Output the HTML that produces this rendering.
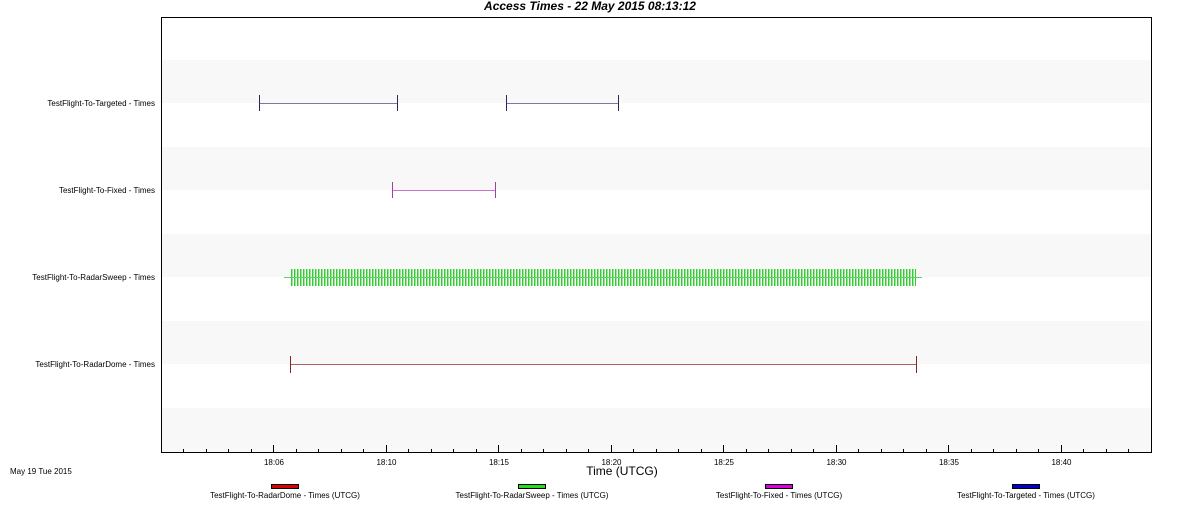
<!DOCTYPE html>
<html><head><style>
body{margin:0;background:#fff;width:1180px;height:501px;overflow:hidden;font-family:"Liberation Sans",sans-serif}
</style></head><body>
<svg width="1180" height="501" xmlns="http://www.w3.org/2000/svg" font-family="Liberation Sans, sans-serif">
<defs>
<pattern id="p" x="291" y="0" width="3" height="20" patternUnits="userSpaceOnUse">
<rect x="0" y="0" width="1" height="20" fill="#33cc33"/>
<rect x="1" y="0" width="1" height="20" fill="#99e699"/>
</pattern>
</defs>
<text x="590" y="10" text-anchor="middle" font-size="12" font-weight="bold" font-style="italic">Access Times - 22 May 2015 08:13:12</text>
<g fill="#f8f8f8">
<rect x="161" y="60" width="990" height="43"/>
<rect x="161" y="147" width="990" height="43"/>
<rect x="161" y="234" width="990" height="43"/>
<rect x="161" y="321" width="990" height="43"/>
<rect x="161" y="408" width="990" height="44"/>
</g>
<rect x="161.5" y="17.5" width="990" height="435" fill="none" stroke="#000"/>
<g font-size="8" text-anchor="end">
<text x="155" y="106">TestFlight-To-Targeted - Times</text>
<text x="155" y="193">TestFlight-To-Fixed - Times</text>
<text x="155" y="280">TestFlight-To-RadarSweep - Times</text>
<text x="155" y="367">TestFlight-To-RadarDome - Times</text>
</g>
<path d="M259 103.5H398M506 103.5H619" stroke="#7878aa"/>
<path d="M259.5 95v16M397.5 95v16M506.5 95v16M618.5 95v16" stroke="#2a2a5a"/>
<path d="M392 190.5H496" stroke="#d070d0"/>
<path d="M392.5 182v16M495.5 182v16" stroke="#a040a0"/>
<rect x="291" y="269" width="625" height="17" fill="url(#p)"/>
<path d="M284 277.5H922" stroke="#66cc66"/>
<path d="M290 364.5H917" stroke="#b06060"/>
<path d="M290.5 356v17M916.5 356v17" stroke="#802828"/>
<path stroke="#000" d="M183.5 452v-3M206.5 452v-3M228.5 452v-3M251.5 452v-3M273.5 452v-7M296.5 452v-3M318.5 452v-3M341.5 452v-3M363.5 452v-3M386.5 452v-7M408.5 452v-3M431.5 452v-3M453.5 452v-3M476.5 452v-3M498.5 452v-7M521.5 452v-3M543.5 452v-3M566.5 452v-3M588.5 452v-3M611.5 452v-7M633.5 452v-3M656.5 452v-3M678.5 452v-3M701.5 452v-3M723.5 452v-7M746.5 452v-3M768.5 452v-3M791.5 452v-3M813.5 452v-3M836.5 452v-7M858.5 452v-3M881.5 452v-3M903.5 452v-3M926.5 452v-3M948.5 452v-7M971.5 452v-3M993.5 452v-3M1016.5 452v-3M1038.5 452v-3M1061.5 452v-7M1083.5 452v-3M1106.5 452v-3M1128.5 452v-3"/>
<g font-size="8" text-anchor="middle">
<text x="274" y="465">18:06</text><text x="386.5" y="465">18:10</text><text x="499" y="465">18:15</text><text x="611.5" y="465">18:20</text><text x="724" y="465">18:25</text><text x="836.5" y="465">18:30</text><text x="949" y="465">18:35</text><text x="1061.5" y="465">18:40</text>
</g>
<text x="622" y="475" font-size="12" text-anchor="middle">Time (UTCG)</text>
<text x="10" y="474" font-size="8">May 19 Tue 2015</text>
<g stroke="#000" stroke-width="1">
<rect x="271.5" y="484.5" width="27" height="4" fill="#dd0000"/>
<rect x="518.5" y="484.5" width="27" height="4" fill="#22dd22"/>
<rect x="765.5" y="484.5" width="27" height="4" fill="#dd00dd"/>
<rect x="1012.5" y="484.5" width="27" height="4" fill="#0000cc"/>
</g>
<g font-size="8" text-anchor="middle">
<text x="285" y="498">TestFlight-To-RadarDome - Times (UTCG)</text>
<text x="532" y="498">TestFlight-To-RadarSweep - Times (UTCG)</text>
<text x="779" y="498">TestFlight-To-Fixed - Times (UTCG)</text>
<text x="1026" y="498">TestFlight-To-Targeted - Times (UTCG)</text>
</g>
</svg>
</body></html>
